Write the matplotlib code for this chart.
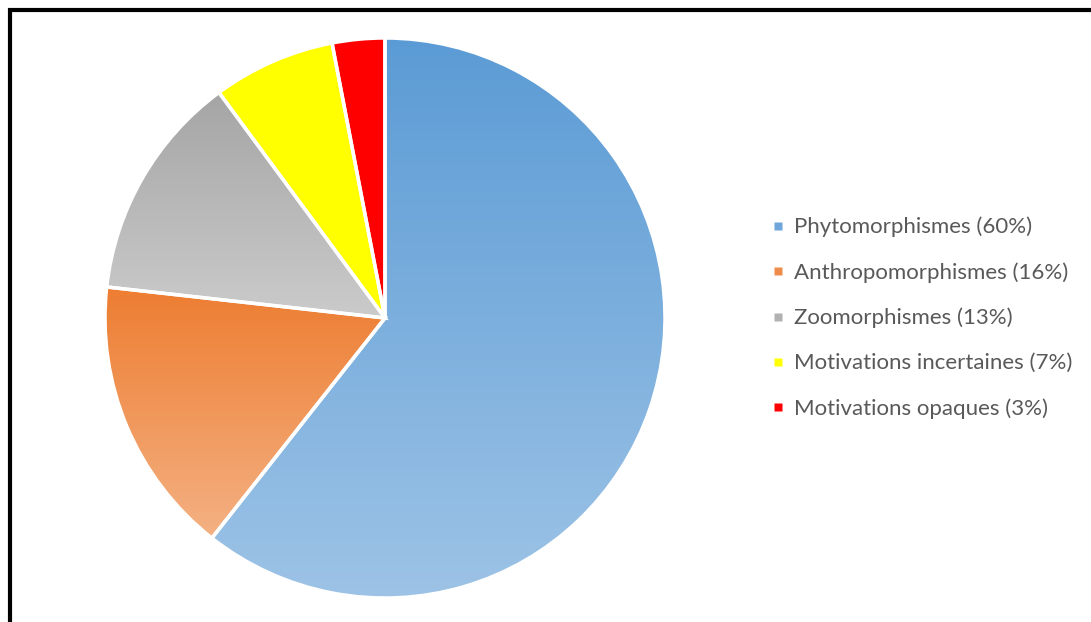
import numpy as np
import matplotlib
matplotlib.use("Agg")
import matplotlib.pyplot as plt
from matplotlib.colors import LinearSegmentedColormap
from matplotlib.lines import Line2D

categories = ["Phytomorphismes", "Anthropomorphismes", "Zoomorphismes",
              "Motivations incertaines", "Motivations opaques"]
shares = [60, 16, 13, 7, 3]
# top colour, bottom colour of each slice's vertical gradient
top_colors = ["#5B9BD5", "#ED7D31", "#A5A5A5", "#FFFF00", "#FF0000"]
bottom_colors = ["#9DC3E6", "#F4B183", "#CBCBCB", "#FFFF00", "#FF0000"]
mid_colors = ["#6FA6DB", "#EF8C4B", "#B2B2B2", "#FFFF00", "#FF0000"]

W, H = 1091, 622
fig = plt.figure(figsize=(W / 100, H / 100), dpi=100)
ax = fig.add_axes([0, 0, 1, 1])

wedges, _ = ax.pie(shares, center=(385, 304), radius=280, startangle=90,
                   counterclock=False, colors=top_colors,
                   wedgeprops=dict(edgecolor="white", linewidth=2.5),
                   frame=True)

# gradient fill clipped to every wedge
for w, c0, c1 in zip(wedges, top_colors, bottom_colors):
    ext = w.get_path().get_extents()
    cmap = LinearSegmentedColormap.from_list("g", [c0, c1])
    grad = np.linspace(0, 1, 256).reshape(-1, 1)
    im = ax.imshow(grad, cmap=cmap, aspect="auto", origin="upper",
                   extent=[ext.x0, ext.x1, ext.y0, ext.y1], zorder=w.get_zorder())
    im.set_clip_path(w)
    w.set_facecolor("none")
    w.set_zorder(w.get_zorder() + 0.5)

ax.set_xlim(0, W)
ax.set_ylim(0, H)
ax.set_aspect("auto")
ax.axis("off")

# legend
handles = [Line2D([], [], marker="s", linestyle="none", markersize=5.5,
                  markerfacecolor=c, markeredgecolor="none") for c in mid_colors]
labels = [f"{c} ({s}%)" for c, s in zip(categories, shares)]
ax.legend(handles, labels, loc="center left", bbox_to_anchor=(0.690, 0.489),
          frameon=False, labelcolor="#595959", handlelength=0.5,
          handletextpad=0.45, labelspacing=1.12,
          prop=dict(family="Lato", size=16))

# frame lines on top and left
fig.add_artist(Line2D([8 / W, 1], [1 - 9.5 / H, 1 - 9.5 / H], color="black",
                      linewidth=3, transform=fig.transFigure,
                      solid_capstyle="butt"))
fig.add_artist(Line2D([10 / W, 10 / W], [0, 1 - 8 / H], color="black",
                      linewidth=3, transform=fig.transFigure,
                      solid_capstyle="butt"))

fig.savefig("out.png", dpi=100, facecolor="white")
